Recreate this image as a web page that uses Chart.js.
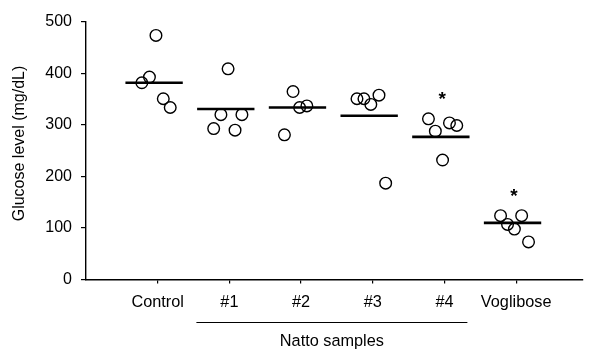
<!DOCTYPE html>
<html>
<head>
<meta charset="utf-8">
<script src="https://cdn.jsdelivr.net/npm/chart.js@4"></script>
<style>
  body { margin: 0; background: #fff; }
  #wrap { width: 590px; height: 349px; }
</style>
</head>
<body>
<div id="wrap"><canvas id="chart" width="590" height="349"></canvas></div>
<script>
// groups on the x axis
const categories = ["Control", "#1", "#2", "#3", "#4", "Voglibose"];

// glucose values (mg/dL), one list per group
const controlVals = [474, 393, 382, 351, 334];
const natto1Vals = [409, 320, 320, 293, 290];
const natto2Vals = [365, 334, 337, 281];
const natto3Vals = [351, 351, 340, 358, 187];
const natto4Vals = [312, 288, 304, 299, 232];
const voglVals = [124, 107, 98, 124, 73];

// horizontal scatter of each point, in category units
const controlX = [0.976, 0.885, 0.779, 1.078, 1.175];
const natto1X = [1.982, 1.882, 2.175, 1.781, 2.079];
const natto2X = [2.888, 2.980, 3.081, 2.768];
const natto3X = [3.780, 3.877, 3.973, 4.087, 4.180];
const natto4X = [4.777, 4.873, 5.070, 5.172, 4.974];
const voglX = [5.783, 5.880, 5.976, 6.077, 6.173];

// group means (the bars)
const means = [382, 331, 334, 318, 277, 110];

// significance marks: group number and height
const starGroups = [5, 6];
const starValues = [357, 168];

const yTicks = [0, 100, 200, 300, 400, 500];

const allVals = [controlVals, natto1Vals, natto2Vals, natto3Vals, natto4Vals, voglVals];
const allX = [controlX, natto1X, natto2X, natto3X, natto4X, voglX];

const points = [];
allVals.forEach((vals, g) => {
  vals.forEach((v, i) => points.push({ x: allX[g][i], y: v }));
});

const meanLine = [];
means.forEach((m, i) => {
  const c = i + 1 - 0.05;
  meanLine.push({ x: c - 0.4, y: m });
  meanLine.push({ x: c + 0.4, y: m });
  meanLine.push({ x: c, y: null });
});

const FONT = '"Liberation Sans", Arial, Helvetica, sans-serif';

const extras = {
  id: "extras",
  afterDraw(chart) {
    const ctx = chart.ctx;
    const xs = chart.scales.x;
    const ys = chart.scales.y;
    ctx.save();
    ctx.fillStyle = "#000";
    ctx.strokeStyle = "#000";

    // stars
    ctx.font = "bold 19px " + FONT;
    ctx.textAlign = "center";
    ctx.textBaseline = "alphabetic";
    starGroups.forEach((g, i) => {
      const px = xs.getPixelForValue(g - 0.03);
      const py = ys.getPixelForValue(starValues[i]);
      ctx.fillText("*", px, py + 9);
    });

    // natto bracket
    const x1 = xs.getPixelForValue(1.54);
    const x2 = xs.getPixelForValue(5.32);
    ctx.lineWidth = 1.2;
    ctx.beginPath();
    ctx.moveTo(x1, 322.5);
    ctx.lineTo(x2, 322.5);
    ctx.stroke();
    ctx.font = "16.3px " + FONT;
    ctx.fillText("Natto samples", (x1 + x2) / 2, 346);

    // y title
    ctx.translate(23.5, 143.5);
    ctx.rotate(-Math.PI / 2);
    ctx.font = "16px " + FONT;
    ctx.fillText("Glucose level (mg/dL)", 0, 0);
    ctx.restore();
  }
};

new Chart(document.getElementById("chart"), {
  type: "scatter",
  data: {
    datasets: [
      {
        data: points,
        pointRadius: 5.8,
        pointBorderWidth: 1.4,
        pointBorderColor: "#000",
        pointBackgroundColor: "rgba(0,0,0,0)",
        showLine: false
      },
      {
        data: meanLine,
        showLine: true,
        spanGaps: false,
        borderColor: "#000",
        borderWidth: 2.6,
        pointRadius: 0
      }
    ]
  },
  options: {
    responsive: false,
    animation: false,
    layout: { padding: { top: 22, right: 0, left: 0, bottom: 0 } },
    plugins: {
      legend: { display: false },
      tooltip: { enabled: false }
    },
    scales: {
      x: {
        type: "linear",
        min: 0,
        max: 6.93,
        afterBuildTicks: (s) => { s.ticks = categories.map((c, i) => ({ value: i + 1 })); },
        afterFit: (s) => { s.height = 69.5; },
        ticks: {
          color: "#000",
          font: { size: 16.3, family: FONT },
          padding: 9,
          maxRotation: 0,
          autoSkip: false,
          callback: (v) => categories[v - 1]
        },
        grid: { display: true, drawOnChartArea: false, drawTicks: true, tickLength: 4, color: "#000", lineWidth: 1.2 },
        border: { display: true, color: "#000", width: 1.4 }
      },
      y: {
        min: 0,
        max: 500,
        afterBuildTicks: (s) => { s.ticks = yTicks.map((v) => ({ value: v })); },
        afterFit: (s) => { s.width = 86; },
        ticks: {
          color: "#000",
          font: { size: 16, family: FONT },
          padding: 9
        },
        grid: { display: true, drawOnChartArea: false, drawTicks: true, tickLength: 5, color: "#000", lineWidth: 1.2 },
        border: { display: true, color: "#000", width: 1.4 }
      }
    }
  },
  plugins: [extras]
});
</script>
</body>
</html>
